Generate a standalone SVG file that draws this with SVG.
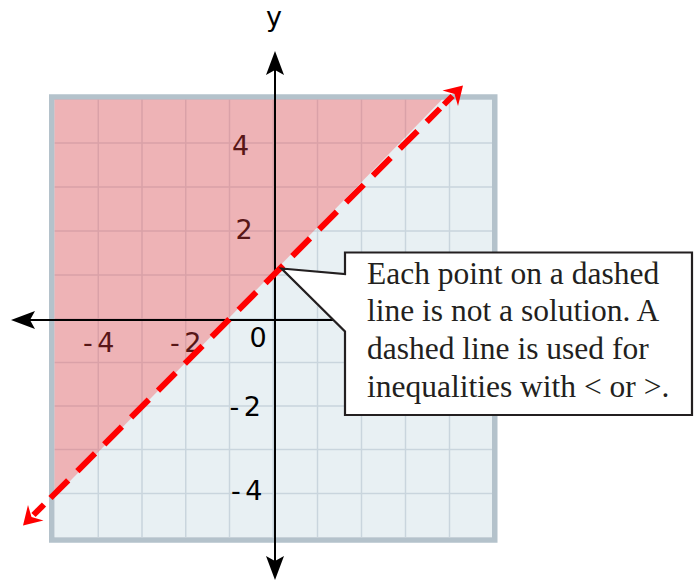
<svg xmlns="http://www.w3.org/2000/svg" width="694" height="582" viewBox="0 0 694 582">
  <style>
    .grid line { stroke: #c9d5dd; stroke-width: 1.5; }
    .num { font-family: "DejaVu Sans", sans-serif; font-size: 27px; fill: #000; }
    .axis { stroke: #000; stroke-width: 2; fill: none; }
    .note { font-family: "Liberation Serif", serif; font-size: 31.5px; fill: #231f20; }
  </style>
  <defs>
    <marker id="axisArrow" markerUnits="userSpaceOnUse" viewBox="-6 -10 26 20" refX="0" refY="0" markerWidth="26" markerHeight="20" orient="auto-start-reverse">
      <path d="M19,0 L-5,-9 L0,0 L-5,9 Z" fill="#000"/>
    </marker>
  </defs>

  <g id="plane">
    <rect x="54.5" y="99.5" width="437.5" height="437.5" fill="#e8f0f3"/>
    <g class="grid">
      <line x1="98.25" y1="99.5" x2="98.25" y2="537"/>
      <line x1="142" y1="99.5" x2="142" y2="537"/>
      <line x1="185.75" y1="99.5" x2="185.75" y2="537"/>
      <line x1="229.5" y1="99.5" x2="229.5" y2="537"/>
      <line x1="273.25" y1="99.5" x2="273.25" y2="537"/>
      <line x1="317.5" y1="99.5" x2="317.5" y2="537"/>
      <line x1="361.5" y1="99.5" x2="361.5" y2="537"/>
      <line x1="405.5" y1="99.5" x2="405.5" y2="537"/>
      <line x1="449.5" y1="99.5" x2="449.5" y2="537"/>
      <line x1="54.5" y1="143" x2="492" y2="143"/>
      <line x1="54.5" y1="187" x2="492" y2="187"/>
      <line x1="54.5" y1="231" x2="492" y2="231"/>
      <line x1="54.5" y1="275" x2="492" y2="275"/>
      <line x1="54.5" y1="319" x2="492" y2="319"/>
      <line x1="54.5" y1="362.5" x2="492" y2="362.5"/>
      <line x1="54.5" y1="406" x2="492" y2="406"/>
      <line x1="54.5" y1="449.5" x2="492" y2="449.5"/>
      <line x1="54.5" y1="493.5" x2="492" y2="493.5"/>
    </g>
    <rect x="51.75" y="97" width="443" height="443" fill="none" stroke="#b4c2cb" stroke-width="5.5"/>
  </g>

  <g id="tick-labels">
    <text class="num" x="240.5" y="155" text-anchor="middle">4</text>
    <text class="num" x="244" y="239" text-anchor="middle">2</text>
    <text class="num" x="83" y="351.5" word-spacing="-4">- 4</text>
    <text class="num" x="170" y="351.5" word-spacing="-4">- 2</text>
    <text class="num" x="258.2" y="347" text-anchor="middle">0</text>
    <text class="num" x="229.5" y="416" word-spacing="-4">- 2</text>
    <text class="num" x="231" y="500" word-spacing="-4">- 4</text>
  </g>

  <g id="solution-region">
    <polygon points="54.5,99.5 442,99.5 54.5,497" fill="rgb(250,66,70)" fill-opacity="0.35"/>
  </g>

  <g id="axes">
    <line class="axis" x1="275" y1="70" x2="275" y2="561" marker-start="url(#axisArrow)" marker-end="url(#axisArrow)"/>
    <line class="axis" x1="30" y1="320" x2="345" y2="320" marker-start="url(#axisArrow)"/>
    <text class="num" x="274" y="26" text-anchor="middle" font-size="26">y</text>
  </g>

  <g id="boundary-line">
    <line x1="50.5" y1="498" x2="440" y2="108.5" stroke="#ff0000" stroke-width="6" stroke-dasharray="25 13"/>
    <path d="M44,504.5 L33.5,515" stroke="#ff0000" stroke-width="6"/>
    <path d="M23,525.5 L28,505 L31.5,517 L43.5,520.5 Z" fill="#ff0000"/>
    <path d="M444,104.5 L452.5,96" stroke="#ff0000" stroke-width="6"/>
    <path d="M463,85.5 L458,106 L454.5,94 L442.5,90.5 Z" fill="#ff0000"/>
  </g>

  <g id="callout">
    <path d="M345,252.5 L692,252.5 L692,415 L345,415 L345,331.5 L281.5,268.5 L345,274 Z" fill="#fff" stroke="#231f20" stroke-width="2.2" stroke-linejoin="miter"/>
    <text class="note" x="367" y="283.5">Each point on a dashed</text>
    <text class="note" x="367" y="321">line is not a solution. A</text>
    <text class="note" x="367" y="359">dashed line is used for</text>
    <text class="note" x="367" y="396.5">inequalities with &lt; or &gt;.</text>
  </g>
</svg>
